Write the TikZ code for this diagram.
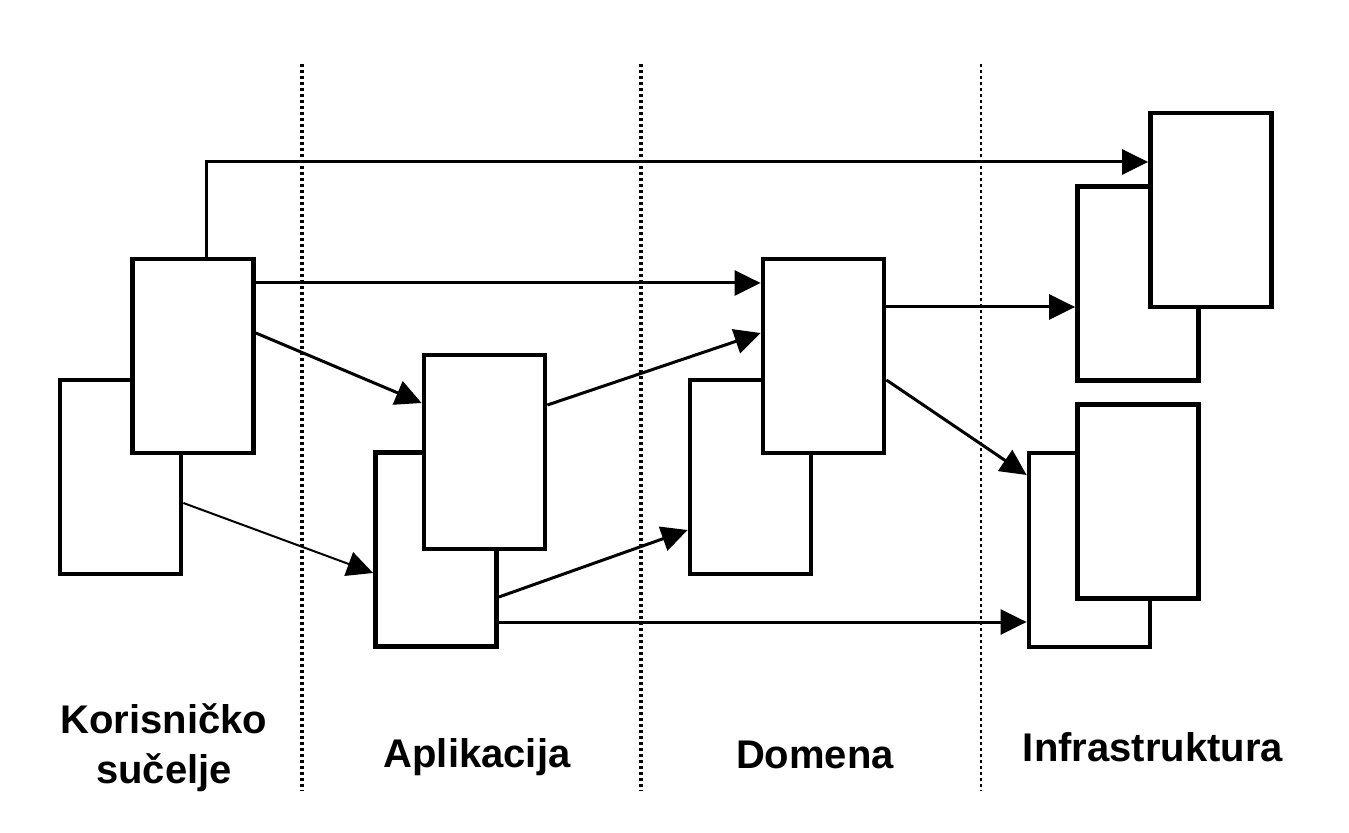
\documentclass[tikz,border=0pt]{standalone}
\usepackage{fontspec}
\setmainfont{Liberation Sans}
\usetikzlibrary{arrows.meta}
\tikzset{every node/.style={rectangle,draw,fill=white,line width=2.4pt,minimum width=60.5pt,minimum height=97pt,inner sep=0pt}}
\tikzset{l/.style={draw=none,fill=none,minimum width=0pt,minimum height=0pt,align=center,font=\bfseries\fontsize{20}{25}\selectfont}}
\tikzset{a/.style={line width=1.5pt,-{Triangle[length=13pt,width=12.5pt]}}}
\tikzset{d/.style={line width=1.8pt,dash pattern=on 1.4pt off 1.6pt}}

\begin{document}
\begin{tikzpicture}[x=0.5pt,y=-0.5pt]
      \useasboundingbox (0,0) rectangle (1349,833);
      % layer borders
      \draw[d] (302,64) -- (302,791);
      \draw[d] (641,64) -- (641,791);
      \draw[d,line width=1.2pt] (981,64) -- (981,791);
      % boxes
      \node (uiB) at (120.5,477) {};
      \node (uiF) at (193,356) {};
      \node (apB) at (436,549.5) {};
      \node (apF) at (484.5,452) {};
      \node (doB) at (750.5,477) {};
      \node (doF) at (823.5,356) {};
      \node (inB1) at (1138,283.5) {};
      \node (inF1) at (1211,210) {};
      \node (inB2) at (1089.5,550) {};
      \node (inF2) at (1138,501.5) {};
      % labels
      \node[l] (UI) at (164,748) {Korisničko\\sučelje};
      \node[l,anchor=base] (AP) at (477,767) {Aplikacija};
      \node[l,anchor=base] (DO) at (815,768) {Domena};
      \node[l,anchor=base] (IN) at (1153,761) {Infrastruktura};
      % connectors
      \draw[a] ([xshift=6.5pt]uiF.north) |- ([yshift=24pt]inF1.west);
      \draw[a] ([yshift=36.5pt]uiF.east) -- ([yshift=36.5pt]uiF.east -| doF.west);
      \draw[a] ([yshift=11.5pt]uiF.east) -- ([yshift=24.5pt]apF.west);
      \draw[a,line width=1pt] ([yshift=-13pt]uiB.east) -- ([yshift=-11.75pt]apB.west);
      \draw[a] ([yshift=23.5pt]apF.east) -- ([yshift=11.5pt]doF.west);
      \draw[a] ([yshift=-23.75pt]apB.east) -- ([yshift=-26.5pt]doB.west);
      \draw[a] ([yshift=-36.25pt]apB.east) -- ([yshift=-36.25pt]apB.east -| inB2.west);
      \draw[a] ([yshift=24.5pt]doF.east) -- ([yshift=24.5pt]doF.east -| inB1.west);
      \draw[a] ([yshift=-12pt]doF.east) -- ([yshift=37.5pt]inB2.west);
\end{tikzpicture}
\end{document}
